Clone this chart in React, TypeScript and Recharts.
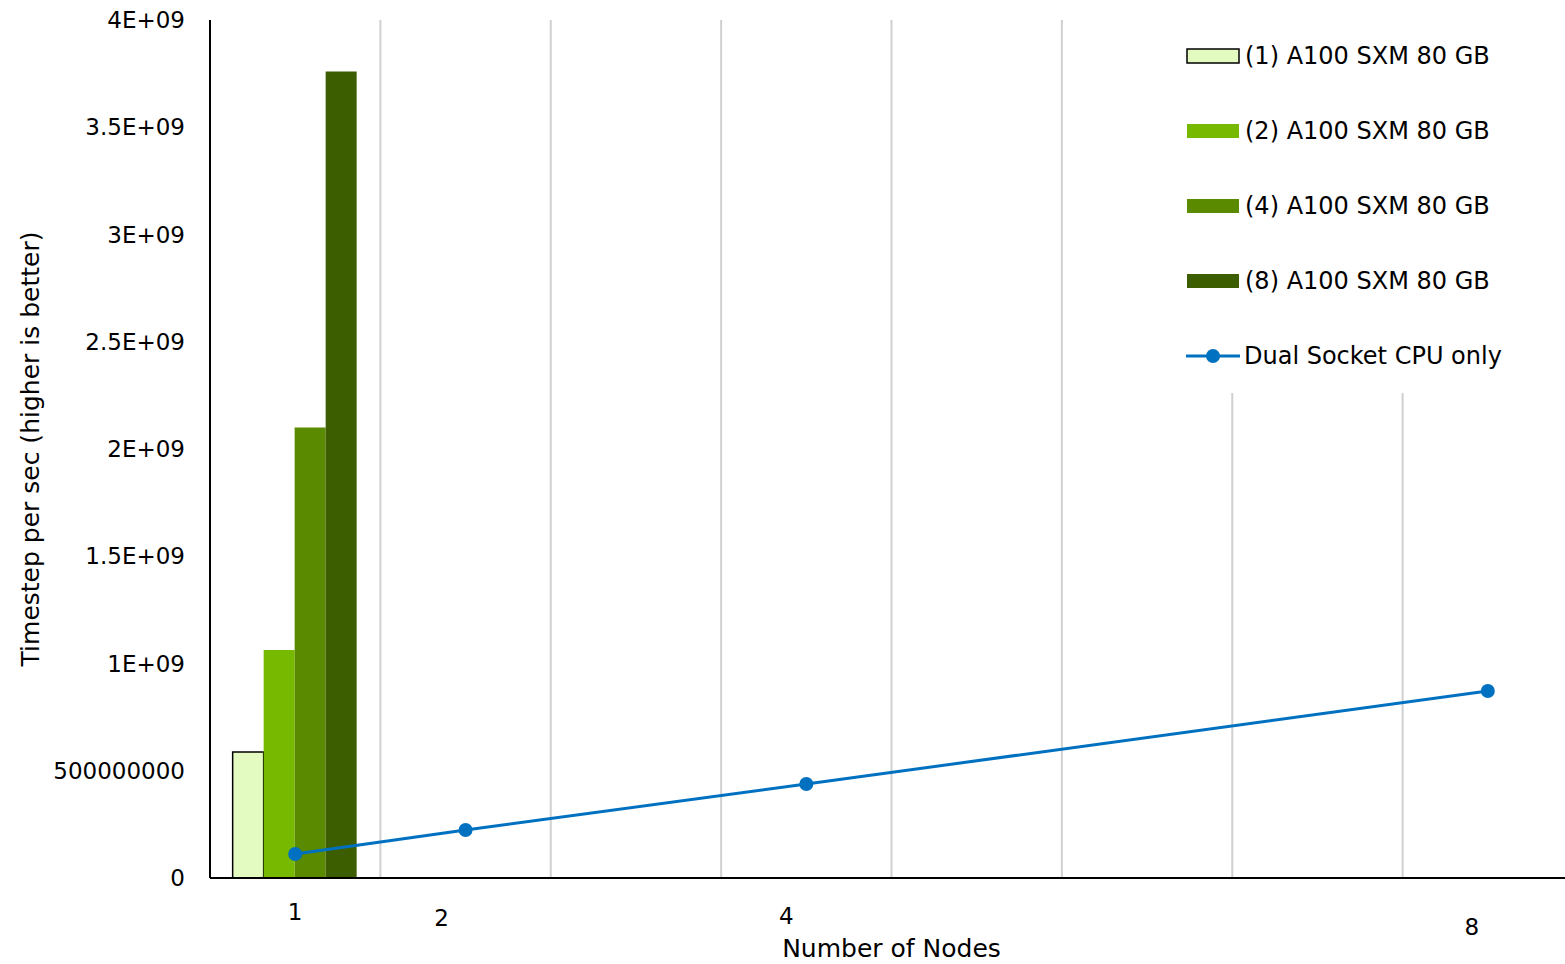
import {
  Bar,
  CartesianGrid,
  ComposedChart,
  Label,
  Legend,
  Line,
  XAxis,
  YAxis,
} from 'recharts';
import type { ReactElement } from 'react';

const nodes = ['1', '2', '3', '4', '5', '6', '7', '8'];
const gpu1 = [587000000, null, null, null, null, null, null, null];
const gpu2 = [1063000000, null, null, null, null, null, null, null];
const gpu4 = [2100000000, null, null, null, null, null, null, null];
const gpu8 = [3760000000, null, null, null, null, null, null, null];
const cpuOnly = [112000000, 224000000, null, 438000000, null, null, null, 872000000];
const yTicks = [0, 500000000, 1000000000, 1500000000, 2000000000, 2500000000, 3000000000, 3500000000, 4000000000];
const shownNodes = ['1', '2', '4', '8'];

const data = nodes.map((n, i) => ({
  n,
  g1: gpu1[i],
  g2: gpu2[i],
  g4: gpu4[i],
  g8: gpu8[i],
  cpu: cpuOnly[i],
}));

const FONT = '"DejaVu Sans", sans-serif';
const BLUE = '#0070c0';

// the category labels in the original sit a little off the band centres
const tickNudge: Record<string, [number, number]> = {
  '1': [0, 34],
  '2': [-24, 40],
  '4': [-20, 38],
  '8': [-16, 49],
};

function formatY(v: number): string {
  if (v === 0) return '0';
  if (v < 1e9) return String(v);
  return `${v / 1e9}E+09`;
}

function NodeTick(props: any): ReactElement | null {
  const { x, payload } = props;
  const label = String(payload.value);
  if (!shownNodes.includes(label)) return null;
  const [dx, dy] = tickNudge[label];
  return (
    <text x={x + dx} y={878 + dy} textAnchor="middle" dominantBaseline="central" fontSize={23} fill="#000" fontFamily={FONT}>
      {label}
    </text>
  );
}

const legendRows = [
  { label: '(1) A100 SXM 80 GB', fill: '#e3fbc0', stroke: '#000' },
  { label: '(2) A100 SXM 80 GB', fill: '#76b900' },
  { label: '(4) A100 SXM 80 GB', fill: '#5a8a00' },
  { label: '(8) A100 SXM 80 GB', fill: '#3d5e00' },
];

function ChartLegend(): ReactElement {
  return (
    <div style={{ fontFamily: FONT, fontSize: 24, color: '#000' }}>
      {legendRows.map((r) => (
        <div key={r.fill} style={{ height: 75, display: 'flex', alignItems: 'center' }}>
          <svg width={58} height={20} style={{ marginLeft: 10 }}>
            <rect x={2} y={3} width={52} height={14} fill={r.fill} stroke={r.stroke ?? 'none'} strokeWidth={1.5} />
          </svg>
          <span style={{ marginLeft: 2 }}>{r.label}</span>
        </div>
      ))}
      <div style={{ height: 75, display: 'flex', alignItems: 'center' }}>
        <svg width={58} height={20} style={{ marginLeft: 10 }}>
          <line x1={1} y1={10} x2={55} y2={10} stroke={BLUE} strokeWidth={3} />
          <circle cx={28} cy={10} r={7} fill={BLUE} />
        </svg>
        <span style={{ marginLeft: 1 }}>Dual Socket CPU only</span>
      </div>
    </div>
  );
}

export default function App(): ReactElement {
  return (
    <div style={{ position: 'fixed', left: 0, top: 0, width: 1565, height: 964, overflow: 'hidden', background: '#fff' }}>
      <ComposedChart
        width={1576}
        height={964}
        data={data}
        margin={{ top: 20, right: 3, left: 0, bottom: 30 }}
        barCategoryGap="13.3%"
        barGap={0}
      >
        <CartesianGrid
          horizontal={false}
          stroke="#d0d0d0"
          strokeWidth={2}
          verticalCoordinatesGenerator={({ offset }: any) =>
            [1, 2, 3, 4, 5, 6, 7].map((i) => offset.left + (i * offset.width) / nodes.length)
          }
        />
        <XAxis
          dataKey="n"
          height={56}
          tickLine={false}
          axisLine={{ stroke: '#000', strokeWidth: 2 }}
          tick={<NodeTick />}
          interval={0}
        >
          <Label
            content={({ viewBox }: any) => (
              <text
                x={viewBox.x + viewBox.width / 2}
                y={viewBox.y + 70}
                textAnchor="middle"
                dominantBaseline="central"
                fontSize={25}
                fontFamily={FONT}
                fill="#000"
              >
                Number of Nodes
              </text>
            )}
          />
        </XAxis>
        <YAxis
          width={210}
          domain={[0, 4000000000]}
          ticks={yTicks}
          tickFormatter={formatY}
          tickLine={false}
          axisLine={{ stroke: '#000', strokeWidth: 2 }}
          tick={{ fontSize: 23, fill: '#000', fontFamily: FONT }}
          tickMargin={19}
          interval={0}
        >
          <Label
            content={({ viewBox }: any) => {
              const cx = viewBox.x + 30;
              const cy = viewBox.y + viewBox.height / 2;
              return (
                <text
                  x={cx}
                  y={cy}
                  transform={`rotate(-90 ${cx} ${cy})`}
                  textAnchor="middle"
                  dominantBaseline="central"
                  fontSize={25}
                  fontFamily={FONT}
                  fill="#000"
                >
                  Timestep per sec (higher is better)
                </text>
              );
            }}
          />
        </YAxis>
        <Legend
          layout="vertical"
          align="center"
          verticalAlign="middle"
          content={<ChartLegend />}
          wrapperStyle={{ left: 1175, top: 18, width: 400, height: 375, background: '#fff' }}
        />
        <Bar dataKey="g1" fill="#e3fbc0" stroke="#000" strokeWidth={1.5} isAnimationActive={false} />
        <Bar dataKey="g2" fill="#76b900" isAnimationActive={false} />
        <Bar dataKey="g4" fill="#5a8a00" isAnimationActive={false} />
        <Bar dataKey="g8" fill="#3d5e00" isAnimationActive={false} />
        <Line
          dataKey="cpu"
          stroke={BLUE}
          strokeWidth={3}
          dot={{ r: 7, fill: BLUE, stroke: BLUE, strokeWidth: 0 }}
          connectNulls
          isAnimationActive={false}
        />
      </ComposedChart>
    </div>
  );
}
